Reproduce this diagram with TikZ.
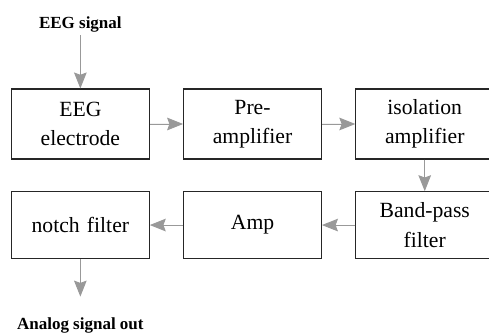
\documentclass[tikz,border=0pt]{standalone}
\usepackage{fontspec}
\setmainfont{Liberation Serif}
\usepackage{xcolor}
\usepackage{tikz}
\usetikzlibrary{arrows.meta, positioning}
\tikzset{
  % Block diagram styles
  block/.style={rectangle, minimum width=4.1cm, minimum height=#1, text width=3.9cm, align=center, draw=black!85, line width=0.9pt, font=\fontsize{18.5}{25}\selectfont},
  block/.default={2.1cm},
  sig/.style={font=\bfseries\fontsize{14.5}{17}\selectfont, inner sep=2pt},
  arrow/.style={-{Stealth[length=4.8mm, width=3.8mm, inset=0.7mm]}, draw=black!40, fill=black!40, line width=0.8pt},
}
\begin{document}
\begin{tikzpicture}[node distance=0.95cm and 1cm]
    \useasboundingbox (0,0) rectangle (14.67,9.99);

    % EEG electrode
    \node[block] (electrode) at (2.41,6.27) {EEG\\electrode};

    % Pre-amplifier
    \node[block, right=of electrode] (preamp) {Pre-\\amplifier};

    % Isolation amplifier
    \node[block, right=of preamp] (isoamp) {isolation\\amplifier};

    % Band-pass filter
    \node[block=2cm, below=of isoamp] (bandpass) {Band-pass\\filter};

    % Amp
    \node[block=2cm, left=of bandpass] (amp) {Amp};

    % Notch filter
    \node[block=2cm, left=of amp] (notch) {notch filter};

    % Input and output
    \node[sig, above=1.6cm of electrode] (input) {EEG signal};
    \node[sig, below=1.68cm of notch] (output) {Analog signal out};
    \coordinate (outend) at ([yshift=0.55cm]output.north);

    % === Arrows ===
    \draw[arrow] (input) -- (electrode);
    \draw[arrow] (electrode) -- (preamp);
    \draw[arrow] (preamp) -- (isoamp);
    \draw[arrow] (isoamp) -- (bandpass);
    \draw[arrow] (bandpass) -- (amp);
    \draw[arrow] (amp) -- (notch);
    \draw[arrow] (notch) -- (outend);
  \end{tikzpicture}
\end{document}
